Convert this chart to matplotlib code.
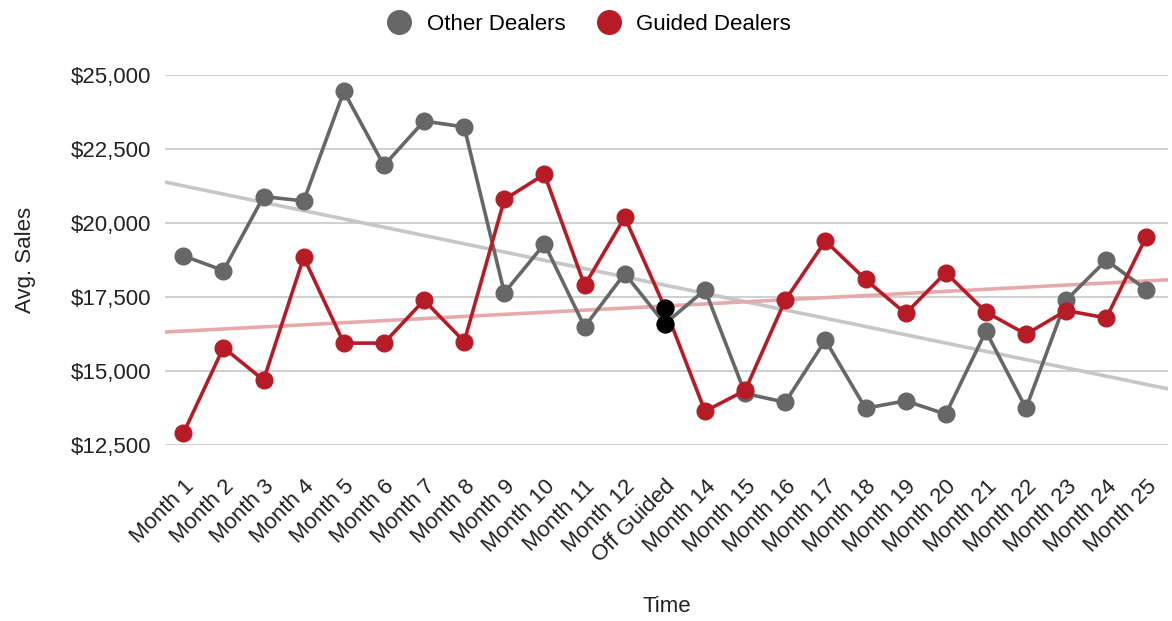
import numpy as np
import matplotlib.pyplot as plt
from matplotlib.ticker import FuncFormatter
from matplotlib.lines import Line2D

plt.rcParams['font.family'] = ['Liberation Sans', 'DejaVu Sans']

#%% data
months = [f"Month {i}" for i in range(1, 13)] + ["Off Guided"] + [f"Month {i}" for i in range(14, 26)]
other_dealers = [18900, 18400, 20900, 20750, 24450, 21950, 23450, 23250, 17650, 19300,
                 16500, 18300, 16600, 17750, 14250, 13950, 16050, 13750, 14000, 13550,
                 16350, 13750, 17400, 18750, 17750]
guided_dealers = [12900, 15800, 14700, 18850, 15950, 15950, 17400, 16000, 20800, 21650,
                  17900, 20200, 17150, 13650, 14350, 17400, 19400, 18100, 16950, 18330,
                  17000, 16250, 17050, 16800, 19550]
off_idx = 12

GRAY = '#676767'
RED = '#b71c26'
TXT = '#222222'

#%% plot
fig = plt.figure(figsize=(11.72, 6.21), dpi=100)
ax = fig.add_axes([0.141, 0.283, 0.856, 0.596])

x = np.arange(len(months))
xlim = (-0.45, len(months) - 0.45)

# trendlines
xt = np.array(xlim)
for y, c in [(other_dealers, '#c6c6c6'), (guided_dealers, '#e6a9ac')]:
    k, b = np.polyfit(x, y, 1)
    ax.plot(xt, k * xt + b, color=c, lw=2.6, zorder=2)

ax.plot(x, other_dealers, color=GRAY, lw=2.6, marker='o', ms=12, zorder=3, clip_on=False)
ax.plot(x, guided_dealers, color=RED, lw=2.6, marker='o', ms=12, zorder=4, clip_on=False)
ax.plot([off_idx], [other_dealers[off_idx]], 'o', color='black', ms=12, zorder=5)
ax.plot([off_idx], [guided_dealers[off_idx]], 'o', color='black', ms=12, zorder=5)

ax.set_xlim(*xlim)
ax.set_ylim(12500, 25000)
ax.set_yticks(np.arange(12500, 25001, 2500))
ax.yaxis.set_major_formatter(FuncFormatter(lambda v, p: f"${v:,.0f}"))
ax.grid(axis='y', color='#cccccc', lw=1.3)
ax.set_axisbelow(True)
for s in ax.spines.values():
    s.set_visible(False)
ax.tick_params(length=0, labelsize=16, colors=TXT)
ax.tick_params(axis='y', pad=10)
ax.tick_params(axis='x', pad=22)
ax.set_xticks(x)
ax.set_xticklabels(months, rotation=45, ha='right', rotation_mode='anchor')

ax.set_ylabel("Avg. Sales", fontsize=16, color=TXT, labelpad=25)
ax.set_xlabel("Time", fontsize=16, color=TXT, labelpad=21)

handles = [Line2D([], [], ls='', marker='o', ms=17, color=GRAY),
           Line2D([], [], ls='', marker='o', ms=17, color=RED)]
fig.legend(handles, ["Other Dealers", "Guided Dealers"], loc='upper center',
           bbox_to_anchor=(0.502, 1.01), ncol=2, frameon=False, fontsize=16,
           handletextpad=0.65, columnspacing=1.35, handlelength=1.2)

fig.savefig("out.png", dpi=100)
